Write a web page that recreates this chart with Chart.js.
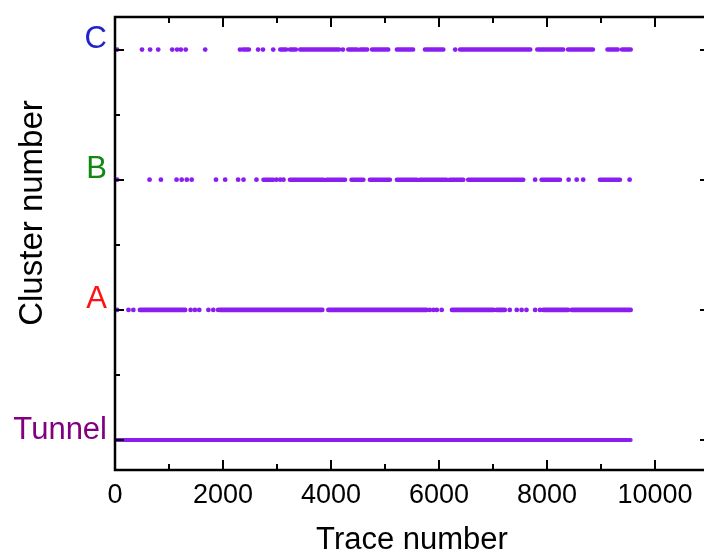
<!DOCTYPE html>
<html>
<head>
<meta charset="utf-8">
<script src="https://cdn.jsdelivr.net/npm/chart.js@4.4.1/dist/chart.umd.min.js"></script>
<style>
  html, body { margin: 0; padding: 0; background: #fff; overflow: hidden; }
  #wrap { width: 704px; height: 552px; overflow: hidden; }
</style>
</head>
<body>
<div id="wrap"><canvas id="clusterChart" width="712" height="552"></canvas></div>
<script>
// cluster levels and names (bottom to top)
const clusterLevels = [0, 1, 2, 3];
const clusterNames = ['Tunnel', 'A', 'B', 'C'];

// x axis ticks
const xTicks = [0, 2000, 4000, 6000, 8000, 10000];
const xMinorTicks = [1000, 3000, 5000, 7000, 9000, 11000];
const yMinorTicks = [0.5, 1.5, 2.5];

// trace numbers assigned to each cluster: single traces and dense runs [from, to]
const tunnelRuns = [[0, 9550]];

const clusterADots = [40, 250, 340, 1400, 1480, 1560, 1730, 1820, 1910, 5830, 5900, 5960, 6050, 7310, 7440, 7530, 7620, 7780, 7870];
const clusterARuns = [[460, 1300], [1945, 3840], [3950, 5770], [6240, 7010], [7070, 7220], [7930, 8390], [8460, 9550]];

const clusterBDots = [40, 640, 850, 1140, 1235, 1330, 1420, 1870, 2040, 2280, 2380, 2620, 2990, 3060, 3120, 7780, 8400, 8550, 8670, 9530];
const clusterBRuns = [[2750, 2930], [3240, 3860], [3920, 4260], [4380, 4600], [4720, 5090], [5220, 5590], [5650, 6140], [6200, 6450], [6540, 7560], [7900, 8240], [8980, 9350]];

const clusterCDots = [40, 500, 650, 800, 1060, 1150, 1220, 1310, 1670, 2315, 2650, 2740, 2930, 4220, 6300];
const clusterCRuns = [[2370, 2480], [3060, 3170], [3240, 3350], [3430, 4150], [4320, 4480], [4540, 4670], [4760, 5060], [5220, 5520], [5740, 6080], [6390, 7690], [7820, 8300], [8390, 8850], [9120, 9310], [9390, 9550]];

const markColor = '#8a1ef0';
const labelColors = ['#800080', '#ff1111', '#118811', '#2222cc'];
const fontFamily = '"Liberation Sans", Arial, sans-serif';

function dotsData(xs, level) {
    return xs.map(x => ({ x: x, y: level }));
}

function runsData(runs, level) {
    const pts = [];
    runs.forEach(r => {
        pts.push({ x: r[0], y: level });
        pts.push({ x: r[1], y: level });
        pts.push({ x: r[1], y: null }); // break the line
    });
    return pts;
}

function runSet(runs, level, width) {
    return {
        data: runsData(runs, level),
        showLine: true,
        spanGaps: false,
        borderColor: markColor,
        borderWidth: width,
        borderCapStyle: 'round',
        pointRadius: 0,
        pointHoverRadius: 0
    };
}

function dotSet(xs, level) {
    return {
        data: dotsData(xs, level),
        backgroundColor: markColor,
        borderWidth: 0,
        pointRadius: 2.4,
        pointHoverRadius: 2.4
    };
}

// frame with inward ticks and the axis titles
const framePlugin = {
    id: 'frame',
    afterDraw(chart) {
        const c = chart.ctx;
        const a = chart.chartArea;
        const xs = chart.scales.x;
        const ys = chart.scales.y;
        c.save();
        c.strokeStyle = '#000';
        c.lineWidth = 2.5;
        c.strokeRect(a.left, a.top, a.right - a.left, a.bottom - a.top);
        c.lineWidth = 2;
        c.beginPath();
        const tickX = (vals, len) => vals.forEach(v => {
            const px = Math.round(xs.getPixelForValue(v));
            c.moveTo(px, a.bottom); c.lineTo(px, a.bottom - len);
            c.moveTo(px, a.top); c.lineTo(px, a.top + len);
        });
        const tickY = (vals, len) => vals.forEach(v => {
            const py = Math.round(ys.getPixelForValue(v));
            c.moveTo(a.left, py); c.lineTo(a.left + len, py);
            c.moveTo(a.right, py); c.lineTo(a.right - len, py);
        });
        tickX(xTicks, 10);
        tickX(xMinorTicks, 6);
        tickY(clusterLevels, 9);
        tickY(yMinorTicks, 5);
        c.stroke();

        c.fillStyle = '#000';
        c.textAlign = 'center';
        c.textBaseline = 'middle';
        c.font = '31px ' + fontFamily;
        c.fillText('Trace number', (a.left + a.right) / 2, 540);
        c.font = '33px ' + fontFamily;
        c.translate(33, 213);
        c.rotate(-Math.PI / 2);
        c.fillText('Cluster number', 0, 0);
        c.restore();
    }
};

const ctx = document.getElementById('clusterChart').getContext('2d');
const clusterChart = new Chart(ctx, {
    type: 'scatter',
    data: {
        datasets: [
            runSet(tunnelRuns, 0, 4),
            runSet(clusterARuns, 1, 4.6),
            dotSet(clusterADots, 1),
            runSet(clusterBRuns, 2, 4.6),
            dotSet(clusterBDots, 2),
            runSet(clusterCRuns, 3, 4.6),
            dotSet(clusterCDots, 3)
        ]
    },
    options: {
        responsive: false,
        animation: false,
        layout: { padding: { top: 17, right: 3, left: 0, bottom: 0 } },
        plugins: {
            legend: { display: false },
            tooltip: { enabled: false }
        },
        scales: {
            x: {
                type: 'linear',
                min: 0,
                max: 11000,
                grid: { display: false, drawTicks: false },
                border: { display: false },
                afterBuildTicks: s => { s.ticks = xTicks.map(v => ({ value: v })); },
                afterFit: s => { s.height = 82; },
                ticks: {
                    color: '#000',
                    padding: 9,
                    maxRotation: 0,
                    autoSkip: false,
                    font: { family: fontFamily, size: 27 },
                    callback: v => String(v)
                }
            },
            y: {
                type: 'linear',
                min: -0.23,
                max: 3.25,
                grid: { display: false, drawTicks: false },
                border: { display: false },
                afterBuildTicks: s => { s.ticks = clusterLevels.map(v => ({ value: v })); },
                afterFit: s => { s.width = 115; s.paddingTop = 0; s.paddingBottom = 0; },
                ticks: {
                    padding: 8,
                    labelOffset: -10,
                    autoSkip: false,
                    font: { family: fontFamily, size: 31 },
                    color: c => labelColors[clusterLevels.indexOf(c.tick.value)] || '#000',
                    callback: v => clusterNames[clusterLevels.indexOf(v)]
                }
            }
        }
    },
    plugins: [framePlugin]
});
</script>
</body>
</html>
